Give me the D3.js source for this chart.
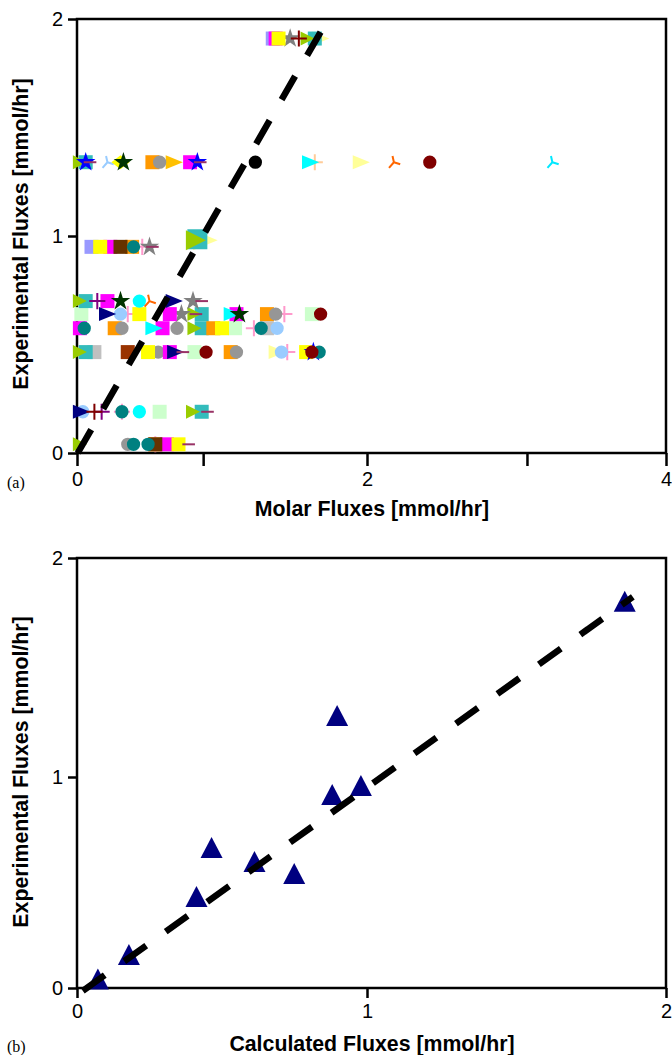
<!DOCTYPE html>
<html>
<head>
<meta charset="utf-8">
<script src="https://cdn.jsdelivr.net/npm/d3@7"></script>
<style>
  body { margin: 0; background: #fff; }
  svg { display: block; }
  .tick text { font-family: "Liberation Sans", sans-serif; font-size: 20px; fill: #000; }
  .title { font-family: "Liberation Sans", sans-serif; font-size: 21.3px; font-weight: bold; text-anchor: middle; }
  .panel { font-family: "Liberation Serif", serif; font-size: 16px; }
  .marks { filter: blur(0.5px); }
</style>
</head>
<body>
<div id="chart"></div>
<script>
// panel (a) - one list per horizontal row of points, series codes
var rowFlux = [1.91, 1.34, 0.95, 0.7, 0.64, 0.575, 0.465, 0.19, 0.04];
var rowMolar = [
  [1.35, 1.39, 1.37, 1.47, 1.53, 1.59, 1.64, 1.67],
  [0.02, 0.06, 0.06, 0.09, 0.21, 0.3, 0.32, 0.52, 0.57, 0.66, 0.78, 0.83, 0.85, 1.23, 1.6, 1.64, 1.95, 2.18, 2.42, 3.24],
  [0.1, 0.16, 0.23, 0.3, 0.38, 0.39, 0.45, 0.5, 0.52],
  [0.02, 0.06, 0.14, 0.21, 0.3, 0.43, 0.5, 0.66, 0.8, 0.86],
  [0.03, 0.2, 0.3, 0.35, 0.43, 0.64, 0.72, 0.81, 0.82, 0.86, 1.06, 1.1, 1.12, 1.31, 1.37, 1.43, 1.62, 1.68],
  [0.02, 0.05, 0.26, 0.31, 0.52, 0.59, 0.69, 0.81, 0.86, 0.94, 1.0, 1.09, 1.22, 1.27, 1.31, 1.38],
  [0.02, 0.06, 0.12, 0.35, 0.49, 0.56, 0.64, 0.67, 0.73, 0.81, 0.89, 1.06, 1.1, 1.37, 1.41, 1.45, 1.58, 1.62, 1.63, 1.67],
  [0.02, 0.04, 0.12, 0.17, 0.31, 0.31, 0.43, 0.57, 0.8, 0.86, 0.9],
  [0.02, 0.35, 0.39, 0.49, 0.54, 0.54, 0.54, 0.62, 0.7, 0.77]
];
var rowSeries = [
  ["J", "I", "F", "d", "e", "A", "B", "N"],
  ["A", "B", "G", "H", "T", "S", "R", "D", "C", "E", "F", "G", "H", "k", "L", "M", "N", "O", "P", "Q"],
  ["J", "I", "F", "K", "D", "W", "Z", "d", "H"],
  ["A", "B", "U", "F", "R", "X", "O", "V", "d", "H"],
  ["Y", "V", "a", "Z", "I", "F", "d", "A", "H", "B", "L", "F", "R", "D", "C", "Z", "Y", "P"],
  ["F", "W", "D", "C", "L", "F", "C", "A", "B", "D", "I", "Y", "Z", "W", "b", "a"],
  ["A", "B", "b", "c", "I", "C", "F", "V", "H", "Y", "P", "D", "C", "N", "a", "Z", "I", "P", "G", "W"],
  ["V", "a", "e", "U", "Z", "W", "X", "Y", "A", "B", "H"],
  ["A", "C", "W", "W", "D", "K", "Z", "F", "I", "H"]
];
// the big olive block sitting on the fit line at about (0.83, 1)
var bigSeries = ["N", "B", "A"];
var bigMolar = [0.87, 0.83, 0.82];
var bigFlux = [0.98, 0.985, 0.98];

// painted in this order, later codes on top
var seriesCodes = ["N","Y","J","T","b","M","Z","B","A","D","E","C","d","F","I","S","L","X","a","G","V","K","c","W","R","P","U","e","H","O","Q","k"];
var seriesColors = ["#ffff99","#ccffcc","#9999ff","#99ccff","#c0c0c0","#ffcc99","#ff99cc","#33bcbc","#99cc00","#ff9900","#ffc000","#969696","#808080","#ff00ff","#ffff00","#ffff00","#00ffff","#00ffff","#99ccff","#0000ff","#000080","#663300","#993300","#008080","#003300","#800000","#800080","#800000","#993366","#ff6600","#00e8ff","#000000"];
var seriesShapes = ["tri","square","square","wye","square","plus","plus","square","block","square","tri","circle","star","square","square","diamond","tri","circle","circle","star","tri","square","square","circle","star","circle","plus","plus","dash","wye","wye","circle"];

var fitMolar = [0.005, 1.68];
var fitFlux = [0.0, 1.94];

// panel (b)
var calcFlux = [0.072, 0.179, 0.412, 0.464, 0.612, 0.749, 0.897, 0.88, 0.979, 1.862];
var expFlux = [0.04, 0.156, 0.431, 0.664, 0.597, 0.54, 1.279, 0.915, 0.957, 1.8];
var fit2Calc = [0.02, 1.889];
var fit2Exp = [-0.014, 1.822];

var xTicksA = [0, 0.87, 2, 3.07, 4];
var xLabelsA = ["0", "", "2", "", "4"];
var yTicks = [0, 1, 2];
var xTicksB = [0, 1, 2];

var svg = d3.select("#chart").append("svg")
  .attr("width", 672)
  .attr("height", 1055);

var symbols = {
  square: function(r) { return "M" + (-r) + "," + (-r) + "H" + r + "V" + r + "H" + (-r) + "Z"; },
  tri: function(r) { return "M" + (-r) + "," + (-r) + "L" + (r * 1.45) + ",0L" + (-r) + "," + r + "Z"; },
  block: function(r) { return "M" + (-r) + "," + (-r) + "L" + r + ",0L" + (-r) + "," + r + "Z"; },
  diamond: function(r) { return "M0," + (-r) + "L" + (r * 1.3) + ",0L0," + r + "L" + (-r * 1.3) + ",0Z"; },
  circle: function(r) { return d3.arc()({ innerRadius: 0, outerRadius: r * 0.95, startAngle: 0, endAngle: 7 }); },
  star: function(r) { return d3.symbol().type(d3.symbolStar).size(r * r * 2.4)(); },
  plus: function(r) { var a = r * 1.15; return "M" + (-a) + ",-1H" + a + "V1H" + (-a) + "ZM-1," + (-a) + "H1V" + a + "H-1Z"; },
  wye: function(r) { return "M0,0L" + (r * 0.9) + "," + (r * 0.3) + "M0,0L" + (-r * 0.7) + "," + (r * 0.8) + "M0,0L" + (-r * 0.2) + "," + (-r * 0.9); },
  dash: function(r) { return "M" + (-r * 0.9) + ",-1H" + (r * 0.9) + "V1H" + (-r * 0.9) + "Z"; }
};

var colorOf = d3.scaleOrdinal().domain(seriesCodes).range(seriesColors);
var shapeOf = d3.scaleOrdinal().domain(seriesCodes).range(seriesShapes);

function drawFrame(x, y, xTicks, xLabels, xTitle, yTitleMid, top, bottom, tickLen, titleY) {
  var left = x.range()[0], right = x.range()[x.range().length - 1];

  svg.append("rect")
    .attr("x", left).attr("y", top)
    .attr("width", right - left).attr("height", bottom - top)
    .attr("fill", "none").attr("stroke", "#000").attr("stroke-width", 2.5);

  var xAxis = d3.axisBottom(x).tickValues(xTicks).tickSize(tickLen).tickPadding(6)
    .tickFormat(function(d, i) { return xLabels[i]; });
  var yAxis = d3.axisLeft(y).tickValues(yTicks).tickSize(9).tickPadding(5).tickFormat(d3.format("d"));

  var gx = svg.append("g").attr("transform", "translate(0," + bottom + ")").call(xAxis);
  var gy = svg.append("g").attr("transform", "translate(" + left + ",0)").call(yAxis);
  gx.select(".domain").remove();
  gy.select(".domain").remove();
  gx.selectAll(".tick line").attr("stroke", "#000").attr("stroke-width", 2.5);
  gy.selectAll(".tick line").attr("stroke", "#000").attr("stroke-width", 2.5);

  svg.append("text").attr("class", "title")
    .attr("x", 372).attr("y", titleY)
    .text(xTitle);
  svg.append("text").attr("class", "title")
    .attr("transform", "translate(28," + yTitleMid + ") rotate(-90)")
    .text("Experimental Fluxes [mmol/hr]");
}

function drawFit(x, y, xs, ys) {
  var line = d3.line().x(function(d) { return x(d[0]); }).y(function(d) { return y(d[1]); });
  svg.append("path")
    .attr("class", "marks")
    .attr("d", line(d3.zip(xs, ys)))
    .attr("fill", "none").attr("stroke", "#000")
    .attr("stroke-width", 6.5).attr("stroke-dasharray", "27 24");
}

// panel a
var xA = d3.scaleLinear().domain([0, 2, 4]).range([77, 367, 666]);
var yA = d3.scaleLinear().domain([0, 2]).range([453, 19]);

var points = [];
rowFlux.forEach(function(f, r) {
  rowMolar[r].forEach(function(m, i) {
    points.push({ x: m, y: f, s: rowSeries[r][i], r: 7 });
  });
});
bigSeries.forEach(function(s, i) {
  points.push({ x: bigMolar[i], y: bigFlux[i], s: s, r: 10 });
});

points.sort(function(a, b) { return seriesCodes.indexOf(a.s) - seriesCodes.indexOf(b.s); });

drawFrame(xA, yA, xTicksA, xLabelsA, "Molar Fluxes [mmol/hr]", 234, 19, 453, 13, 516);

svg.append("g").attr("class", "marks").selectAll("path")
  .data(points)
  .enter().append("path")
    .attr("transform", function(d) { return "translate(" + xA(d.x) + "," + yA(d.y) + ")"; })
    .attr("d", function(d) { return symbols[shapeOf(d.s)](d.r); })
    .attr("fill", function(d) { return colorOf(d.s); })
    .attr("stroke", function(d) { return shapeOf(d.s) == "wye" ? colorOf(d.s) : "none"; })
    .attr("stroke-width", 2);

drawFit(xA, yA, fitMolar, fitFlux);

// panel b
var xB = d3.scaleLinear().domain([0, 1, 2]).range([77, 367, 666]);
var yB = d3.scaleLinear().domain([0, 1, 2]).range([988, 777, 558]);

drawFrame(xB, yB, xTicksB, ["0", "1", "2"], "Calculated Fluxes [mmol/hr]", 772, 558, 988, 10, 1051);

svg.append("g").attr("class", "marks").selectAll("path")
  .data(d3.zip(calcFlux, expFlux))
  .enter().append("path")
    .attr("transform", function(d) { return "translate(" + xB(d[0]) + "," + yB(d[1]) + ")"; })
    .attr("d", "M0,-11L11,10L-11,10Z")
    .attr("fill", "#000080");

drawFit(xB, yB, fit2Calc, fit2Exp);

svg.append("text").attr("class", "panel").attr("x", 7).attr("y", 488).text("(a)");
svg.append("text").attr("class", "panel").attr("x", 7).attr("y", 1052).text("(b)");
</script>
</body>
</html>
